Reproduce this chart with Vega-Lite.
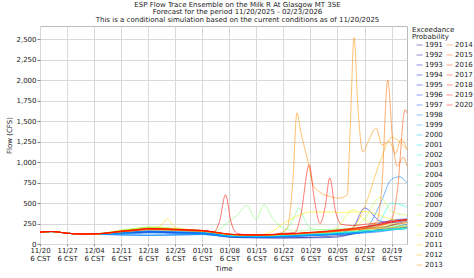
{
"$schema":"https://vega.github.io/schema/vega-lite/v6.json",
"width":367,"height":218,
"autosize":{"type":"none"},
"padding":{"left":40,"top":26,"right":67,"bottom":34},
"background":"white",
"config":{
"font":"DejaVu Sans",
"view":{"stroke":"#bbbbbb"},
"axis":{"labelFont":"DejaVu Sans","labelFontSize":7,"labelColor":"#222","titleFont":"DejaVu Sans","titleFontSize":7,"titleFontWeight":"normal","titleColor":"#222","gridColor":"#d9d9d9","tickColor":"#888","domain":false},
"legend":{"labelFont":"DejaVu Sans","labelFontSize":7,"labelColor":"#222","titleFont":"DejaVu Sans","titleFontSize":7,"titleFontWeight":"normal","titleColor":"#222","symbolType":"stroke","symbolSize":36,"symbolStrokeWidth":1,"symbolOpacity":0.45,"rowPadding":2,"labelOffset":2,"padding":0,"titleLineHeight":7,"titlePadding":1.5}
},
"title":{"text":["ESP Flow Trace Ensemble on the Milk R At Glasgow MT 3SE","Forecast for the period 11/20/2025 - 02/23/2026","This is a conditional simulation based on the current conditions as of 11/20/2025"],"font":"DejaVu Sans","fontSize":7,"fontWeight":"normal","color":"#222","lineHeight":7.7,"anchor":"middle","dx":14,"offset":3},
"data":{"values":[
{"d":0,"s":1991,"v":145},{"d":3,"s":1991,"v":152},{"d":7,"s":1991,"v":132},{"d":10,"s":1991,"v":122},{"d":14,"s":1991,"v":120},{"d":18,"s":1991,"v":125},{"d":21,"s":1991,"v":132},{"d":25,"s":1991,"v":140},{"d":28,"s":1991,"v":145},{"d":32,"s":1991,"v":143},{"d":35,"s":1991,"v":138},{"d":39,"s":1991,"v":136},{"d":42,"s":1991,"v":132},{"d":46,"s":1991,"v":105},{"d":49,"s":1991,"v":88},{"d":53,"s":1991,"v":80},{"d":56,"s":1991,"v":78},{"d":60,"s":1991,"v":76},{"d":63,"s":1991,"v":76},{"d":67,"s":1991,"v":78},{"d":70,"s":1991,"v":82},{"d":74,"s":1991,"v":90},{"d":77,"s":1991,"v":100},{"d":81,"s":1991,"v":120},{"d":84,"s":1991,"v":150},{"d":88,"s":1991,"v":180},{"d":91,"s":1991,"v":230},{"d":95,"s":1991,"v":280},
{"d":0,"s":1992,"v":145},{"d":3,"s":1992,"v":152},{"d":7,"s":1992,"v":132},{"d":10,"s":1992,"v":122},{"d":14,"s":1992,"v":118},{"d":18,"s":1992,"v":122},{"d":21,"s":1992,"v":128},{"d":25,"s":1992,"v":132},{"d":28,"s":1992,"v":138},{"d":32,"s":1992,"v":136},{"d":35,"s":1992,"v":130},{"d":39,"s":1992,"v":128},{"d":42,"s":1992,"v":126},{"d":46,"s":1992,"v":100},{"d":49,"s":1992,"v":82},{"d":53,"s":1992,"v":76},{"d":56,"s":1992,"v":74},{"d":60,"s":1992,"v":73},{"d":63,"s":1992,"v":73},{"d":67,"s":1992,"v":74},{"d":70,"s":1992,"v":76},{"d":74,"s":1992,"v":78},{"d":77,"s":1992,"v":85},{"d":81,"s":1992,"v":130},{"d":84,"s":1992,"v":190},{"d":88,"s":1992,"v":250},{"d":91,"s":1992,"v":290},{"d":95,"s":1992,"v":305},
{"d":0,"s":1993,"v":145},{"d":3,"s":1993,"v":152},{"d":7,"s":1993,"v":132},{"d":10,"s":1993,"v":122},{"d":14,"s":1993,"v":122},{"d":18,"s":1993,"v":132},{"d":21,"s":1993,"v":142},{"d":25,"s":1993,"v":152},{"d":28,"s":1993,"v":160},{"d":32,"s":1993,"v":156},{"d":35,"s":1993,"v":148},{"d":39,"s":1993,"v":146},{"d":42,"s":1993,"v":142},{"d":46,"s":1993,"v":118},{"d":49,"s":1993,"v":100},{"d":53,"s":1993,"v":95},{"d":56,"s":1993,"v":92},{"d":60,"s":1993,"v":95},{"d":63,"s":1993,"v":100},{"d":67,"s":1993,"v":108},{"d":70,"s":1993,"v":118},{"d":74,"s":1993,"v":125},{"d":77,"s":1993,"v":132},{"d":81,"s":1993,"v":145},{"d":84,"s":1993,"v":160},{"d":88,"s":1993,"v":175},{"d":91,"s":1993,"v":190},{"d":95,"s":1993,"v":210},
{"d":0,"s":1994,"v":145},{"d":3,"s":1994,"v":152},{"d":7,"s":1994,"v":132},{"d":10,"s":1994,"v":122},{"d":14,"s":1994,"v":121},{"d":18,"s":1994,"v":130},{"d":21,"s":1994,"v":140},{"d":25,"s":1994,"v":148},{"d":28,"s":1994,"v":155},{"d":32,"s":1994,"v":152},{"d":35,"s":1994,"v":146},{"d":39,"s":1994,"v":143},{"d":42,"s":1994,"v":138},{"d":46,"s":1994,"v":116},{"d":49,"s":1994,"v":98},{"d":53,"s":1994,"v":92},{"d":56,"s":1994,"v":90},{"d":60,"s":1994,"v":92},{"d":63,"s":1994,"v":96},{"d":67,"s":1994,"v":104},{"d":70,"s":1994,"v":114},{"d":74,"s":1994,"v":120},{"d":77,"s":1994,"v":128},{"d":81,"s":1994,"v":140},{"d":84,"s":1994,"v":150},{"d":88,"s":1994,"v":165},{"d":91,"s":1994,"v":180},{"d":95,"s":1994,"v":200},
{"d":0,"s":1995,"v":145},{"d":3,"s":1995,"v":152},{"d":7,"s":1995,"v":132},{"d":10,"s":1995,"v":122},{"d":14,"s":1995,"v":120},{"d":18,"s":1995,"v":128},{"d":21,"s":1995,"v":138},{"d":25,"s":1995,"v":145},{"d":28,"s":1995,"v":152},{"d":32,"s":1995,"v":148},{"d":35,"s":1995,"v":143},{"d":39,"s":1995,"v":138},{"d":42,"s":1995,"v":136},{"d":46,"s":1995,"v":114},{"d":49,"s":1995,"v":95},{"d":53,"s":1995,"v":90},{"d":56,"s":1995,"v":88},{"d":60,"s":1995,"v":90},{"d":63,"s":1995,"v":95},{"d":67,"s":1995,"v":100},{"d":70,"s":1995,"v":110},{"d":74,"s":1995,"v":118},{"d":77,"s":1995,"v":128},{"d":81,"s":1995,"v":200},{"d":84,"s":1995,"v":440},{"d":88,"s":1995,"v":280},{"d":91,"s":1995,"v":260},{"d":95,"s":1995,"v":300},
{"d":0,"s":1996,"v":145},{"d":3,"s":1996,"v":152},{"d":7,"s":1996,"v":132},{"d":10,"s":1996,"v":122},{"d":14,"s":1996,"v":119},{"d":18,"s":1996,"v":126},{"d":21,"s":1996,"v":133},{"d":25,"s":1996,"v":138},{"d":28,"s":1996,"v":143},{"d":32,"s":1996,"v":140},{"d":35,"s":1996,"v":136},{"d":39,"s":1996,"v":133},{"d":42,"s":1996,"v":130},{"d":46,"s":1996,"v":110},{"d":49,"s":1996,"v":94},{"d":53,"s":1996,"v":88},{"d":56,"s":1996,"v":85},{"d":60,"s":1996,"v":88},{"d":63,"s":1996,"v":92},{"d":67,"s":1996,"v":98},{"d":70,"s":1996,"v":105},{"d":74,"s":1996,"v":112},{"d":77,"s":1996,"v":120},{"d":81,"s":1996,"v":135},{"d":84,"s":1996,"v":150},{"d":88,"s":1996,"v":170},{"d":91,"s":1996,"v":200},{"d":95,"s":1996,"v":240},
{"d":0,"s":1997,"v":145},{"d":3,"s":1997,"v":152},{"d":7,"s":1997,"v":132},{"d":10,"s":1997,"v":122},{"d":14,"s":1997,"v":117},{"d":18,"s":1997,"v":116},{"d":21,"s":1997,"v":113},{"d":25,"s":1997,"v":110},{"d":28,"s":1997,"v":108},{"d":32,"s":1997,"v":110},{"d":35,"s":1997,"v":112},{"d":39,"s":1997,"v":115},{"d":42,"s":1997,"v":118},{"d":46,"s":1997,"v":104},{"d":49,"s":1997,"v":92},{"d":53,"s":1997,"v":85},{"d":56,"s":1997,"v":82},{"d":60,"s":1997,"v":85},{"d":63,"s":1997,"v":90},{"d":67,"s":1997,"v":95},{"d":70,"s":1997,"v":100},{"d":74,"s":1997,"v":108},{"d":77,"s":1997,"v":115},{"d":81,"s":1997,"v":125},{"d":84,"s":1997,"v":135},{"d":88,"s":1997,"v":150},{"d":91,"s":1997,"v":170},{"d":95,"s":1997,"v":190},
{"d":0,"s":1998,"v":145},{"d":3,"s":1998,"v":152},{"d":7,"s":1998,"v":132},{"d":10,"s":1998,"v":122},{"d":14,"s":1998,"v":116},{"d":18,"s":1998,"v":114},{"d":21,"s":1998,"v":110},{"d":25,"s":1998,"v":107},{"d":28,"s":1998,"v":105},{"d":32,"s":1998,"v":108},{"d":35,"s":1998,"v":110},{"d":39,"s":1998,"v":112},{"d":42,"s":1998,"v":115},{"d":46,"s":1998,"v":102},{"d":49,"s":1998,"v":90},{"d":53,"s":1998,"v":84},{"d":56,"s":1998,"v":82},{"d":60,"s":1998,"v":84},{"d":63,"s":1998,"v":88},{"d":67,"s":1998,"v":95},{"d":70,"s":1998,"v":102},{"d":74,"s":1998,"v":110},{"d":77,"s":1998,"v":118},{"d":81,"s":1998,"v":130},{"d":84,"s":1998,"v":170},{"d":88,"s":1998,"v":480},{"d":91,"s":1998,"v":790},{"d":93,"s":1998,"v":820},{"d":95,"s":1998,"v":745},
{"d":0,"s":1999,"v":145},{"d":3,"s":1999,"v":152},{"d":7,"s":1999,"v":132},{"d":10,"s":1999,"v":122},{"d":14,"s":1999,"v":117},{"d":18,"s":1999,"v":115},{"d":21,"s":1999,"v":111},{"d":25,"s":1999,"v":108},{"d":28,"s":1999,"v":106},{"d":32,"s":1999,"v":108},{"d":35,"s":1999,"v":112},{"d":39,"s":1999,"v":115},{"d":42,"s":1999,"v":118},{"d":46,"s":1999,"v":104},{"d":49,"s":1999,"v":92},{"d":53,"s":1999,"v":86},{"d":56,"s":1999,"v":84},{"d":60,"s":1999,"v":86},{"d":63,"s":1999,"v":90},{"d":67,"s":1999,"v":96},{"d":70,"s":1999,"v":104},{"d":74,"s":1999,"v":112},{"d":77,"s":1999,"v":120},{"d":81,"s":1999,"v":130},{"d":84,"s":1999,"v":140},{"d":88,"s":1999,"v":160},{"d":91,"s":1999,"v":180},{"d":95,"s":1999,"v":200},
{"d":0,"s":2000,"v":145},{"d":3,"s":2000,"v":152},{"d":7,"s":2000,"v":132},{"d":10,"s":2000,"v":122},{"d":14,"s":2000,"v":119},{"d":18,"s":2000,"v":122},{"d":21,"s":2000,"v":126},{"d":25,"s":2000,"v":130},{"d":28,"s":2000,"v":135},{"d":32,"s":2000,"v":134},{"d":35,"s":2000,"v":131},{"d":39,"s":2000,"v":130},{"d":42,"s":2000,"v":129},{"d":46,"s":2000,"v":110},{"d":49,"s":2000,"v":95},{"d":53,"s":2000,"v":90},{"d":56,"s":2000,"v":88},{"d":60,"s":2000,"v":90},{"d":63,"s":2000,"v":95},{"d":67,"s":2000,"v":102},{"d":70,"s":2000,"v":110},{"d":74,"s":2000,"v":118},{"d":77,"s":2000,"v":125},{"d":81,"s":2000,"v":135},{"d":84,"s":2000,"v":145},{"d":88,"s":2000,"v":160},{"d":91,"s":2000,"v":175},{"d":95,"s":2000,"v":190},
{"d":0,"s":2001,"v":145},{"d":3,"s":2001,"v":152},{"d":7,"s":2001,"v":132},{"d":10,"s":2001,"v":122},{"d":14,"s":2001,"v":121},{"d":18,"s":2001,"v":128},{"d":21,"s":2001,"v":138},{"d":25,"s":2001,"v":148},{"d":28,"s":2001,"v":158},{"d":32,"s":2001,"v":156},{"d":35,"s":2001,"v":148},{"d":39,"s":2001,"v":144},{"d":42,"s":2001,"v":141},{"d":46,"s":2001,"v":120},{"d":49,"s":2001,"v":102},{"d":53,"s":2001,"v":96},{"d":56,"s":2001,"v":94},{"d":60,"s":2001,"v":98},{"d":63,"s":2001,"v":102},{"d":67,"s":2001,"v":110},{"d":70,"s":2001,"v":118},{"d":74,"s":2001,"v":125},{"d":77,"s":2001,"v":132},{"d":81,"s":2001,"v":145},{"d":84,"s":2001,"v":155},{"d":88,"s":2001,"v":165},{"d":91,"s":2001,"v":175},{"d":95,"s":2001,"v":185},
{"d":0,"s":2002,"v":145},{"d":3,"s":2002,"v":152},{"d":7,"s":2002,"v":132},{"d":10,"s":2002,"v":122},{"d":14,"s":2002,"v":122},{"d":18,"s":2002,"v":132},{"d":21,"s":2002,"v":148},{"d":25,"s":2002,"v":162},{"d":28,"s":2002,"v":176},{"d":32,"s":2002,"v":172},{"d":35,"s":2002,"v":163},{"d":39,"s":2002,"v":156},{"d":42,"s":2002,"v":149},{"d":46,"s":2002,"v":127},{"d":49,"s":2002,"v":107},{"d":53,"s":2002,"v":100},{"d":56,"s":2002,"v":98},{"d":60,"s":2002,"v":102},{"d":63,"s":2002,"v":108},{"d":67,"s":2002,"v":115},{"d":70,"s":2002,"v":122},{"d":74,"s":2002,"v":130},{"d":77,"s":2002,"v":138},{"d":81,"s":2002,"v":150},{"d":84,"s":2002,"v":165},{"d":88,"s":2002,"v":280},{"d":91,"s":2002,"v":500},{"d":95,"s":2002,"v":450},
{"d":0,"s":2003,"v":145},{"d":3,"s":2003,"v":152},{"d":7,"s":2003,"v":132},{"d":10,"s":2003,"v":122},{"d":14,"s":2003,"v":123},{"d":18,"s":2003,"v":137},{"d":21,"s":2003,"v":158},{"d":25,"s":2003,"v":178},{"d":28,"s":2003,"v":192},{"d":32,"s":2003,"v":187},{"d":35,"s":2003,"v":176},{"d":39,"s":2003,"v":164},{"d":42,"s":2003,"v":157},{"d":46,"s":2003,"v":131},{"d":49,"s":2003,"v":111},{"d":53,"s":2003,"v":104},{"d":56,"s":2003,"v":100},{"d":60,"s":2003,"v":104},{"d":63,"s":2003,"v":110},{"d":67,"s":2003,"v":118},{"d":70,"s":2003,"v":125},{"d":74,"s":2003,"v":132},{"d":77,"s":2003,"v":140},{"d":81,"s":2003,"v":150},{"d":84,"s":2003,"v":160},{"d":88,"s":2003,"v":170},{"d":91,"s":2003,"v":180},{"d":95,"s":2003,"v":190},
{"d":0,"s":2004,"v":145},{"d":3,"s":2004,"v":152},{"d":7,"s":2004,"v":132},{"d":10,"s":2004,"v":122},{"d":14,"s":2004,"v":123},{"d":18,"s":2004,"v":138},{"d":21,"s":2004,"v":163},{"d":25,"s":2004,"v":188},{"d":28,"s":2004,"v":203},{"d":32,"s":2004,"v":196},{"d":35,"s":2004,"v":179},{"d":39,"s":2004,"v":167},{"d":42,"s":2004,"v":159},{"d":46,"s":2004,"v":134},{"d":49,"s":2004,"v":114},{"d":53,"s":2004,"v":106},{"d":56,"s":2004,"v":102},{"d":60,"s":2004,"v":106},{"d":63,"s":2004,"v":112},{"d":67,"s":2004,"v":120},{"d":70,"s":2004,"v":128},{"d":74,"s":2004,"v":135},{"d":77,"s":2004,"v":142},{"d":81,"s":2004,"v":152},{"d":84,"s":2004,"v":160},{"d":88,"s":2004,"v":170},{"d":91,"s":2004,"v":180},{"d":95,"s":2004,"v":190},
{"d":0,"s":2005,"v":145},{"d":3,"s":2005,"v":152},{"d":7,"s":2005,"v":132},{"d":10,"s":2005,"v":122},{"d":14,"s":2005,"v":124},{"d":18,"s":2005,"v":140},{"d":21,"s":2005,"v":163},{"d":25,"s":2005,"v":183},{"d":28,"s":2005,"v":198},{"d":32,"s":2005,"v":193},{"d":35,"s":2005,"v":181},{"d":39,"s":2005,"v":169},{"d":42,"s":2005,"v":161},{"d":46,"s":2005,"v":135},{"d":49,"s":2005,"v":115},{"d":53,"s":2005,"v":108},{"d":56,"s":2005,"v":104},{"d":60,"s":2005,"v":110},{"d":63,"s":2005,"v":140},{"d":65.5,"s":2005,"v":300},{"d":67,"s":2005,"v":440},{"d":68.5,"s":2005,"v":300},{"d":70,"s":2005,"v":190},{"d":74,"s":2005,"v":170},{"d":77,"s":2005,"v":175},{"d":81,"s":2005,"v":185},{"d":84,"s":2005,"v":195},{"d":88,"s":2005,"v":200},{"d":91,"s":2005,"v":210},{"d":95,"s":2005,"v":220},
{"d":0,"s":2006,"v":145},{"d":3,"s":2006,"v":152},{"d":7,"s":2006,"v":132},{"d":10,"s":2006,"v":122},{"d":14,"s":2006,"v":124},{"d":18,"s":2006,"v":141},{"d":21,"s":2006,"v":166},{"d":25,"s":2006,"v":190},{"d":28,"s":2006,"v":206},{"d":32,"s":2006,"v":200},{"d":35,"s":2006,"v":186},{"d":39,"s":2006,"v":171},{"d":42,"s":2006,"v":162},{"d":45,"s":2006,"v":150},{"d":47,"s":2006,"v":200},{"d":49,"s":2006,"v":280},{"d":51,"s":2006,"v":350},{"d":53.5,"s":2006,"v":470},{"d":56,"s":2006,"v":300},{"d":58,"s":2006,"v":480},{"d":60,"s":2006,"v":330},{"d":62,"s":2006,"v":220},{"d":65,"s":2006,"v":170},{"d":67,"s":2006,"v":160},{"d":70,"s":2006,"v":170},{"d":74,"s":2006,"v":175},{"d":77,"s":2006,"v":180},{"d":81,"s":2006,"v":190},{"d":84,"s":2006,"v":200},{"d":88,"s":2006,"v":210},{"d":91,"s":2006,"v":220},{"d":95,"s":2006,"v":230},
{"d":0,"s":2007,"v":145},{"d":3,"s":2007,"v":152},{"d":7,"s":2007,"v":132},{"d":10,"s":2007,"v":122},{"d":14,"s":2007,"v":124},{"d":18,"s":2007,"v":144},{"d":21,"s":2007,"v":170},{"d":25,"s":2007,"v":194},{"d":28,"s":2007,"v":208},{"d":32,"s":2007,"v":203},{"d":35,"s":2007,"v":189},{"d":39,"s":2007,"v":174},{"d":42,"s":2007,"v":164},{"d":46,"s":2007,"v":139},{"d":49,"s":2007,"v":117},{"d":53,"s":2007,"v":109},{"d":56,"s":2007,"v":105},{"d":60,"s":2007,"v":109},{"d":63,"s":2007,"v":117},{"d":67,"s":2007,"v":127},{"d":70,"s":2007,"v":137},{"d":74,"s":2007,"v":147},{"d":77,"s":2007,"v":157},{"d":81,"s":2007,"v":170},{"d":84,"s":2007,"v":180},{"d":88,"s":2007,"v":190},{"d":91,"s":2007,"v":200},{"d":95,"s":2007,"v":210},
{"d":0,"s":2008,"v":145},{"d":3,"s":2008,"v":152},{"d":7,"s":2008,"v":132},{"d":10,"s":2008,"v":122},{"d":14,"s":2008,"v":124},{"d":18,"s":2008,"v":143},{"d":21,"s":2008,"v":167},{"d":25,"s":2008,"v":189},{"d":28,"s":2008,"v":203},{"d":32,"s":2008,"v":198},{"d":35,"s":2008,"v":187},{"d":39,"s":2008,"v":171},{"d":42,"s":2008,"v":161},{"d":46,"s":2008,"v":137},{"d":49,"s":2008,"v":117},{"d":53,"s":2008,"v":109},{"d":56,"s":2008,"v":105},{"d":60,"s":2008,"v":109},{"d":63,"s":2008,"v":117},{"d":67,"s":2008,"v":127},{"d":70,"s":2008,"v":139},{"d":74,"s":2008,"v":149},{"d":77,"s":2008,"v":164},{"d":81,"s":2008,"v":200},{"d":84,"s":2008,"v":300},{"d":88,"s":2008,"v":570},{"d":91,"s":2008,"v":400},{"d":95,"s":2008,"v":350},
{"d":0,"s":2009,"v":145},{"d":3,"s":2009,"v":152},{"d":7,"s":2009,"v":132},{"d":10,"s":2009,"v":122},{"d":14,"s":2009,"v":123},{"d":18,"s":2009,"v":141},{"d":21,"s":2009,"v":161},{"d":25,"s":2009,"v":181},{"d":28,"s":2009,"v":193},{"d":32,"s":2009,"v":190},{"d":35,"s":2009,"v":181},{"d":39,"s":2009,"v":169},{"d":42,"s":2009,"v":161},{"d":46,"s":2009,"v":137},{"d":49,"s":2009,"v":117},{"d":53,"s":2009,"v":109},{"d":56,"s":2009,"v":107},{"d":60,"s":2009,"v":111},{"d":63,"s":2009,"v":119},{"d":67,"s":2009,"v":129},{"d":70,"s":2009,"v":139},{"d":74,"s":2009,"v":149},{"d":77,"s":2009,"v":200},{"d":81,"s":2009,"v":420},{"d":84,"s":2009,"v":300},{"d":88,"s":2009,"v":230},{"d":91,"s":2009,"v":245},{"d":95,"s":2009,"v":260},
{"d":0,"s":2010,"v":145},{"d":3,"s":2010,"v":152},{"d":7,"s":2010,"v":132},{"d":10,"s":2010,"v":122},{"d":14,"s":2010,"v":123},{"d":18,"s":2010,"v":139},{"d":21,"s":2010,"v":157},{"d":25,"s":2010,"v":174},{"d":28,"s":2010,"v":186},{"d":32,"s":2010,"v":183},{"d":35,"s":2010,"v":177},{"d":39,"s":2010,"v":167},{"d":42,"s":2010,"v":159},{"d":46,"s":2010,"v":135},{"d":49,"s":2010,"v":117},{"d":53,"s":2010,"v":111},{"d":56,"s":2010,"v":109},{"d":60,"s":2010,"v":150},{"d":63,"s":2010,"v":250},{"d":67,"s":2010,"v":350},{"d":70,"s":2010,"v":390},{"d":74,"s":2010,"v":392},{"d":77,"s":2010,"v":385},{"d":81,"s":2010,"v":390},{"d":84,"s":2010,"v":395},{"d":88,"s":2010,"v":350},{"d":91,"s":2010,"v":300},{"d":95,"s":2010,"v":280},
{"d":0,"s":2011,"v":145},{"d":3,"s":2011,"v":152},{"d":7,"s":2011,"v":132},{"d":10,"s":2011,"v":122},{"d":14,"s":2011,"v":123},{"d":18,"s":2011,"v":137},{"d":21,"s":2011,"v":154},{"d":25,"s":2011,"v":169},{"d":28,"s":2011,"v":181},{"d":31,"s":2011,"v":215},{"d":33,"s":2011,"v":305},{"d":35,"s":2011,"v":200},{"d":39,"s":2011,"v":174},{"d":42,"s":2011,"v":164},{"d":46,"s":2011,"v":139},{"d":49,"s":2011,"v":119},{"d":53,"s":2011,"v":111},{"d":56,"s":2011,"v":109},{"d":60,"s":2011,"v":113},{"d":63,"s":2011,"v":119},{"d":67,"s":2011,"v":129},{"d":70,"s":2011,"v":139},{"d":74,"s":2011,"v":149},{"d":77,"s":2011,"v":159},{"d":81,"s":2011,"v":169},{"d":84,"s":2011,"v":179},{"d":88,"s":2011,"v":189},{"d":91,"s":2011,"v":199},{"d":95,"s":2011,"v":215},
{"d":0,"s":2012,"v":145},{"d":3,"s":2012,"v":152},{"d":7,"s":2012,"v":132},{"d":10,"s":2012,"v":122},{"d":14,"s":2012,"v":122},{"d":18,"s":2012,"v":135},{"d":21,"s":2012,"v":149},{"d":25,"s":2012,"v":164},{"d":28,"s":2012,"v":174},{"d":32,"s":2012,"v":171},{"d":35,"s":2012,"v":167},{"d":39,"s":2012,"v":159},{"d":42,"s":2012,"v":154},{"d":46,"s":2012,"v":134},{"d":49,"s":2012,"v":117},{"d":53,"s":2012,"v":109},{"d":56,"s":2012,"v":107},{"d":60,"s":2012,"v":111},{"d":63,"s":2012,"v":117},{"d":67,"s":2012,"v":124},{"d":70,"s":2012,"v":134},{"d":74,"s":2012,"v":144},{"d":77,"s":2012,"v":159},{"d":81,"s":2012,"v":200},{"d":84,"s":2012,"v":450},{"d":88,"s":2012,"v":1000},{"d":91,"s":2012,"v":1300},{"d":95,"s":2012,"v":1150},
{"d":0,"s":2013,"v":145},{"d":3,"s":2013,"v":152},{"d":7,"s":2013,"v":132},{"d":10,"s":2013,"v":122},{"d":14,"s":2013,"v":122},{"d":18,"s":2013,"v":134},{"d":21,"s":2013,"v":150},{"d":25,"s":2013,"v":165},{"d":28,"s":2013,"v":176},{"d":32,"s":2013,"v":173},{"d":35,"s":2013,"v":168},{"d":39,"s":2013,"v":160},{"d":42,"s":2013,"v":155},{"d":46,"s":2013,"v":134},{"d":49,"s":2013,"v":117},{"d":53,"s":2013,"v":110},{"d":56,"s":2013,"v":108},{"d":60,"s":2013,"v":115},{"d":62.5,"s":2013,"v":140},{"d":64,"s":2013,"v":200},{"d":65.5,"s":2013,"v":800},{"d":66.5,"s":2013,"v":1600},{"d":67.5,"s":2013,"v":1370},{"d":69.4,"s":2013,"v":1000},{"d":70.7,"s":2013,"v":720},{"d":72.5,"s":2013,"v":630},{"d":75,"s":2013,"v":580},{"d":77.5,"s":2013,"v":560},{"d":79.5,"s":2013,"v":600},{"d":80.3,"s":2013,"v":1400},{"d":81.3,"s":2013,"v":2520},{"d":82.3,"s":2013,"v":1660},{"d":83.6,"s":2013,"v":1120},{"d":84.9,"s":2013,"v":1245},{"d":87,"s":2013,"v":1415},{"d":88.5,"s":2013,"v":1208},{"d":90.5,"s":2013,"v":1250},{"d":92,"s":2013,"v":1100},{"d":93.5,"s":2013,"v":1280},{"d":95,"s":2013,"v":1150},
{"d":0,"s":2014,"v":145},{"d":3,"s":2014,"v":152},{"d":7,"s":2014,"v":132},{"d":10,"s":2014,"v":122},{"d":14,"s":2014,"v":123},{"d":18,"s":2014,"v":136},{"d":21,"s":2014,"v":153},{"d":25,"s":2014,"v":169},{"d":28,"s":2014,"v":182},{"d":32,"s":2014,"v":179},{"d":35,"s":2014,"v":174},{"d":39,"s":2014,"v":166},{"d":42,"s":2014,"v":161},{"d":46,"s":2014,"v":137},{"d":49,"s":2014,"v":119},{"d":53,"s":2014,"v":111},{"d":56,"s":2014,"v":109},{"d":60,"s":2014,"v":113},{"d":63,"s":2014,"v":120},{"d":67,"s":2014,"v":128},{"d":70,"s":2014,"v":138},{"d":74,"s":2014,"v":150},{"d":77,"s":2014,"v":163},{"d":81,"s":2014,"v":180},{"d":84,"s":2014,"v":210},{"d":87,"s":2014,"v":260},{"d":88.5,"s":2014,"v":700},{"d":90,"s":2014,"v":2000},{"d":91.3,"s":2014,"v":1250},{"d":92.5,"s":2014,"v":950},{"d":94,"s":2014,"v":1060},{"d":95,"s":2014,"v":950},
{"d":0,"s":2015,"v":145},{"d":3,"s":2015,"v":152},{"d":7,"s":2015,"v":132},{"d":10,"s":2015,"v":122},{"d":14,"s":2015,"v":122},{"d":18,"s":2015,"v":135},{"d":21,"s":2015,"v":152},{"d":25,"s":2015,"v":167},{"d":28,"s":2015,"v":180},{"d":32,"s":2015,"v":177},{"d":35,"s":2015,"v":172},{"d":39,"s":2015,"v":164},{"d":42,"s":2015,"v":159},{"d":46,"s":2015,"v":136},{"d":49,"s":2015,"v":118},{"d":53,"s":2015,"v":110},{"d":56,"s":2015,"v":108},{"d":60,"s":2015,"v":112},{"d":63,"s":2015,"v":118},{"d":67,"s":2015,"v":126},{"d":70,"s":2015,"v":136},{"d":74,"s":2015,"v":146},{"d":77,"s":2015,"v":158},{"d":81,"s":2015,"v":175},{"d":84,"s":2015,"v":190},{"d":88,"s":2015,"v":220},{"d":91,"s":2015,"v":300},{"d":92.5,"s":2015,"v":650},{"d":94.5,"s":2015,"v":1640},{"d":95,"s":2015,"v":1600},
{"d":0,"s":2016,"v":145},{"d":3,"s":2016,"v":152},{"d":7,"s":2016,"v":132},{"d":10,"s":2016,"v":122},{"d":14,"s":2016,"v":122},{"d":18,"s":2016,"v":134},{"d":21,"s":2016,"v":149},{"d":25,"s":2016,"v":164},{"d":28,"s":2016,"v":177},{"d":32,"s":2016,"v":174},{"d":35,"s":2016,"v":169},{"d":39,"s":2016,"v":161},{"d":42,"s":2016,"v":157},{"d":46,"s":2016,"v":134},{"d":49,"s":2016,"v":117},{"d":53,"s":2016,"v":109},{"d":56,"s":2016,"v":107},{"d":60,"s":2016,"v":111},{"d":63,"s":2016,"v":117},{"d":67,"s":2016,"v":124},{"d":70,"s":2016,"v":134},{"d":74,"s":2016,"v":144},{"d":77,"s":2016,"v":154},{"d":81,"s":2016,"v":170},{"d":84,"s":2016,"v":185},{"d":88,"s":2016,"v":200},{"d":91,"s":2016,"v":230},{"d":95,"s":2016,"v":260},
{"d":0,"s":2017,"v":145},{"d":3,"s":2017,"v":152},{"d":7,"s":2017,"v":132},{"d":10,"s":2017,"v":122},{"d":14,"s":2017,"v":123},{"d":18,"s":2017,"v":137},{"d":21,"s":2017,"v":154},{"d":25,"s":2017,"v":171},{"d":28,"s":2017,"v":184},{"d":32,"s":2017,"v":181},{"d":35,"s":2017,"v":177},{"d":39,"s":2017,"v":169},{"d":42,"s":2017,"v":164},{"d":46,"s":2017,"v":139},{"d":49,"s":2017,"v":119},{"d":53,"s":2017,"v":111},{"d":56,"s":2017,"v":109},{"d":60,"s":2017,"v":114},{"d":63,"s":2017,"v":121},{"d":67,"s":2017,"v":129},{"d":70,"s":2017,"v":139},{"d":74,"s":2017,"v":151},{"d":77,"s":2017,"v":164},{"d":81,"s":2017,"v":180},{"d":84,"s":2017,"v":200},{"d":88,"s":2017,"v":230},{"d":91,"s":2017,"v":260},{"d":95,"s":2017,"v":290},
{"d":0,"s":2018,"v":145},{"d":3,"s":2018,"v":152},{"d":7,"s":2018,"v":132},{"d":10,"s":2018,"v":122},{"d":14,"s":2018,"v":124},{"d":18,"s":2018,"v":139},{"d":21,"s":2018,"v":157},{"d":25,"s":2018,"v":174},{"d":28,"s":2018,"v":189},{"d":32,"s":2018,"v":185},{"d":35,"s":2018,"v":179},{"d":39,"s":2018,"v":171},{"d":42,"s":2018,"v":165},{"d":46,"s":2018,"v":141},{"d":49,"s":2018,"v":121},{"d":53,"s":2018,"v":113},{"d":56,"s":2018,"v":111},{"d":60,"s":2018,"v":115},{"d":63,"s":2018,"v":123},{"d":67,"s":2018,"v":131},{"d":70,"s":2018,"v":141},{"d":74,"s":2018,"v":154},{"d":77,"s":2018,"v":169},{"d":81,"s":2018,"v":190},{"d":84,"s":2018,"v":210},{"d":88,"s":2018,"v":240},{"d":91,"s":2018,"v":270},{"d":95,"s":2018,"v":300},
{"d":0,"s":2019,"v":145},{"d":3,"s":2019,"v":152},{"d":7,"s":2019,"v":132},{"d":10,"s":2019,"v":122},{"d":14,"s":2019,"v":123},{"d":18,"s":2019,"v":138},{"d":21,"s":2019,"v":156},{"d":25,"s":2019,"v":173},{"d":28,"s":2019,"v":187},{"d":32,"s":2019,"v":183},{"d":35,"s":2019,"v":178},{"d":39,"s":2019,"v":170},{"d":42,"s":2019,"v":165},{"d":46,"s":2019,"v":140},{"d":49,"s":2019,"v":120},{"d":53,"s":2019,"v":112},{"d":56,"s":2019,"v":110},{"d":60,"s":2019,"v":114},{"d":63,"s":2019,"v":130},{"d":66,"s":2019,"v":140},{"d":67.5,"s":2019,"v":350},{"d":69.7,"s":2019,"v":965},{"d":71,"s":2019,"v":550},{"d":72.5,"s":2019,"v":250},{"d":73.8,"s":2019,"v":450},{"d":75,"s":2019,"v":805},{"d":76.5,"s":2019,"v":400},{"d":78,"s":2019,"v":240},{"d":81,"s":2019,"v":225},{"d":84,"s":2019,"v":240},{"d":88,"s":2019,"v":260},{"d":91,"s":2019,"v":280},{"d":95,"s":2019,"v":295},
{"d":0,"s":2020,"v":145},{"d":3,"s":2020,"v":152},{"d":7,"s":2020,"v":132},{"d":10,"s":2020,"v":122},{"d":14,"s":2020,"v":124},{"d":18,"s":2020,"v":140},{"d":21,"s":2020,"v":159},{"d":25,"s":2020,"v":176},{"d":28,"s":2020,"v":192},{"d":32,"s":2020,"v":188},{"d":35,"s":2020,"v":181},{"d":39,"s":2020,"v":172},{"d":42,"s":2020,"v":166},{"d":45,"s":2020,"v":150},{"d":46.5,"s":2020,"v":280},{"d":48,"s":2020,"v":600},{"d":49.5,"s":2020,"v":260},{"d":51,"s":2020,"v":130},{"d":53,"s":2020,"v":115},{"d":56,"s":2020,"v":112},{"d":60,"s":2020,"v":117},{"d":63,"s":2020,"v":125},{"d":67,"s":2020,"v":133},{"d":70,"s":2020,"v":143},{"d":74,"s":2020,"v":156},{"d":77,"s":2020,"v":170},{"d":81,"s":2020,"v":190},{"d":84,"s":2020,"v":210},{"d":88,"s":2020,"v":240},{"d":91,"s":2020,"v":270},{"d":95,"s":2020,"v":300}
]},
"encoding":{
"x":{"field":"d","type":"quantitative","scale":{"domain":[0,95],"nice":false,"zero":false},"axis":{"title":"Time","values":[0,7,14,21,28,35,42,49,56,63,70,77,84,91],"labelExpr":"[timeFormat(datetime(2025,10,20+datum.value,6),'%m/%d'),'6 CST']","labelLineHeight":8.5,"labelPadding":0,"tickSize":2,"titlePadding":3,"labelFlush":false}},
"y":{"field":"v","type":"quantitative","scale":{"domain":[0,2660],"nice":false},"axis":{"title":"Flow (CFS)","values":[0,250,500,750,1000,1250,1500,1750,2000,2250,2500],"format":",d","tickSize":3,"labelPadding":1,"titlePadding":3}}
},
"layer":[
{"transform":[{"filter":"datum.s <= 2013"}],
"mark":{"type":"line","strokeWidth":1,"opacity":0.55,"interpolate":"monotone"},
"encoding":{"color":{"field":"s","type":"nominal","scale":{"domain":[1991,1992,1993,1994,1995,1996,1997,1998,1999,2000,2001,2002,2003,2004,2005,2006,2007,2008,2009,2010,2011,2012,2013],"range":["#000080","#0000a8","#0000d0","#0000f7","#000dff","#0030ff","#0054ff","#0077ff","#009aff","#00bdff","#00e0fb","#18ffdf","#34ffc2","#51ffa6","#6dff89","#89ff6d","#a6ff51","#c2ff34","#dfff18","#fbf100","#ffd000","#ffb000","#ff8f00"]},"legend":{"title":["Exceedance","Probability"],"orient":"none","legendX":372,"legendY":0,"symbolOffset":4,"titleAnchor":"start"}}}},
{"transform":[{"filter":"datum.s >= 2014"}],
"mark":{"type":"line","strokeWidth":1,"opacity":0.55,"interpolate":"monotone"},
"encoding":{"stroke":{"field":"s","type":"nominal","scale":{"domain":[2014,2015,2016,2017,2018,2019,2020],"range":["#ff6e00","#ff5000","#ff3800","#ff2400","#ff1800","#ff0c00","#ff0000"]},"legend":{"title":null,"orient":"none","legendX":406,"legendY":15.5}}}}
]
}
